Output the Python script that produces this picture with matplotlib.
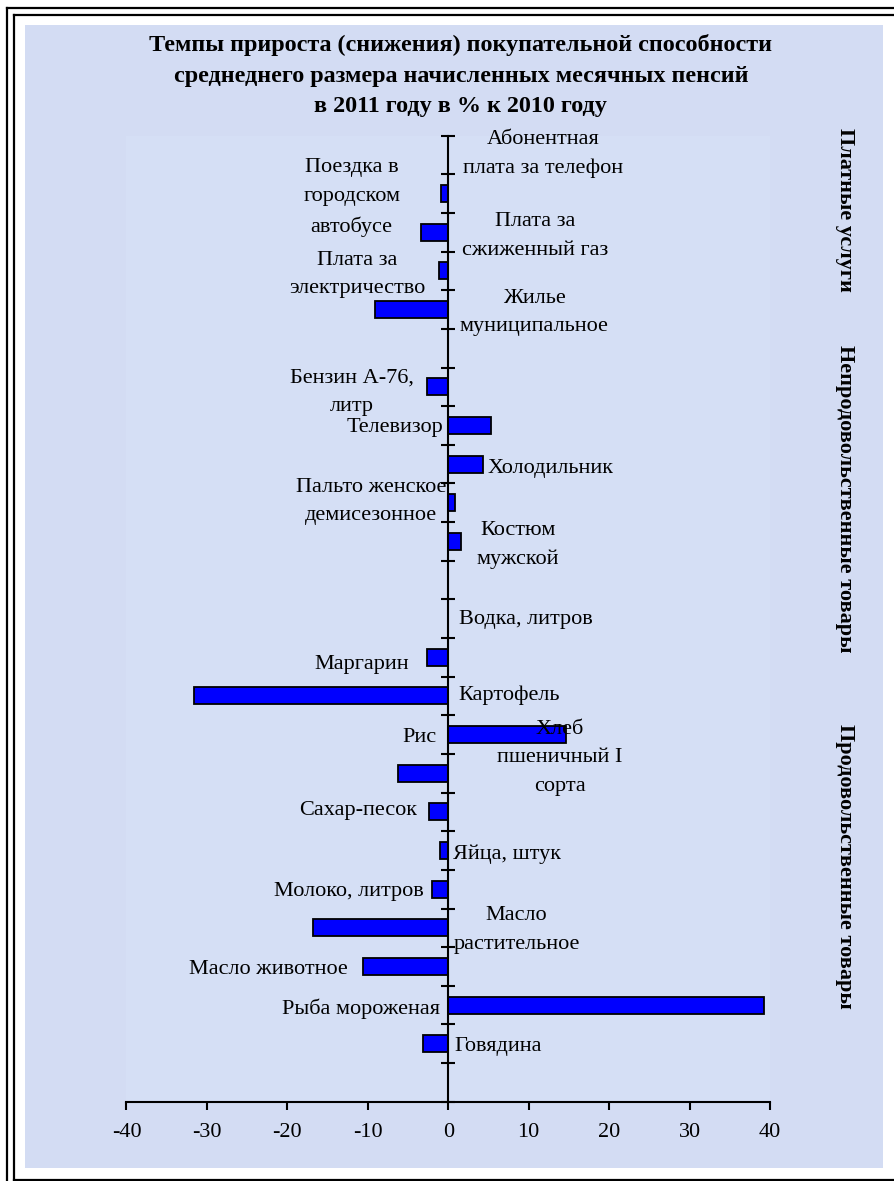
import numpy as np
import matplotlib.pyplot as plt
from matplotlib.patches import Rectangle
from matplotlib.lines import Line2D

plt.rcParams['font.family'] = ['Liberation Serif', 'DejaVu Serif']

# slots from top to bottom, '' = gap between groups
categories = ['Абонентная\nплата за телефон', 'Поездка в\nгородском\nавтобусе',
              'Плата за\nсжиженный газ', 'Плата за\nэлектричество',
              'Жилье\nмуниципальное', '',
              'Бензин А-76,\nлитр', 'Телевизор', 'Холодильник',
              'Пальто женское\nдемисезонное', 'Костюм\nмужской', '',
              'Водка, литров', 'Маргарин', 'Картофель', 'Рис',
              'Хлеб\nпшеничный I\nсорта', 'Сахар-песок', 'Яйца, штук',
              'Молоко, литров', 'Масло\nрастительное', 'Масло животное',
              'Рыба мороженая', 'Говядина', '']
values = [0.0, -0.9, -3.4, -1.1, -9.1, np.nan,
          -2.6, 5.3, 4.3, 0.8, 1.6, np.nan,
          0.0, -2.6, -31.6, 14.7, -6.3, -2.4, -1.0,
          -2.0, -16.8, -10.6, 39.3, -3.2, np.nan]
groups = ['Платные услуги', 'Непродовольственные товары', 'Продовольственные товары']
xticks = [-40, -30, -20, -10, 0, 10, 20, 30, 40]

title = ('Темпы прироста (снижения) покупательной способности\n'
         'среднеднего размера начисленных месячных пенсий\n'
         'в 2011 году в % к 2010 году')

# where each category text sits (x in data units, y offset from its slot)
label_x = [11.8, -12.0, 10.8, -11.3, 10.7, 0,
           -12.0, -6.6, 12.7, -9.6, 8.7, 0,
           9.6, -10.8, 7.6, -3.6, 13.9, -11.2, 7.3,
           -12.3, 8.5, -22.4, -10.8, 6.25, 0]
label_dy = [-0.08, 0.04, 0.04, 0.03, 0.01, 0,
            0.08, 0.0, 0.05, -0.1, 0.04, 0,
            -0.04, 0.12, -0.07, 0.01, -0.46, -0.1, 0.03,
            0.0, 0.0, 0.03, 0.04, 0.01, 0]
group_y = [0.822, 0.578, 0.266]

fig = plt.figure(figsize=(8.95, 11.81), dpi=100)
fig.patch.set_facecolor('white')

W, H = 895, 1181
def px(x0, y0, x1, y1):
    return (x0 / W, 1 - y1 / H, (x1 - x0) / W, (y1 - y0) / H)

# background panel
bx, by, bw, bh = px(25, 25, 883, 1168)
fig.patches.append(Rectangle((bx, by), bw, bh, transform=fig.transFigure,
                             facecolor='#d3dcf3', edgecolor='none', zorder=-5))

# frames (only the visible sides)
def fline(xs, ys):
    fig.lines.append(Line2D([x / W for x in xs], [1 - y / H for y in ys],
                            transform=fig.transFigure, color='black', lw=1.6, zorder=-4))
fline([7, 7], [8, 1181])
fline([7, 895], [8, 8])
fline([14.5, 14.5], [14.5, 1180])
fline([14.5, 895], [14.5, 14.5])
fline([14.5, 895], [1180, 1180])

ax = fig.add_axes(px(126.5, 135.7, 770, 1101.7))
ax.set_zorder(2)
ax.set_facecolor('#d5dff5')

ypos = np.arange(len(categories))
ax.barh(ypos, values, height=0.44, color='#0000ff', edgecolor='black', linewidth=1.3, zorder=3)

ax.set_xlim(-40, 40)
ax.set_ylim(len(categories) - 0.5, -0.5)

ax.spines['top'].set_visible(False)
ax.spines['right'].set_visible(False)
ax.spines['left'].set_position(('data', 0))
ax.spines['left'].set_linewidth(1.5)
ax.spines['bottom'].set_linewidth(1.5)
ax.spines['left'].set_zorder(4)

ax.set_yticks(np.arange(-0.5, len(categories) - 0.4, 1.0))
ax.set_yticklabels([])
ax.tick_params(axis='y', direction='inout', length=10, width=1.5)
ax.set_xticks(xticks)
ax.set_xticklabels([str(v) for v in xticks], fontsize=16)
ax.tick_params(axis='x', direction='out', length=6, width=1.5, pad=9)

for i, name in enumerate(categories):
    if name == '':
        continue
    ax.text(label_x[i], i + label_dy[i] + 0.06, name, ha='center', va='center',
            fontsize=16, linespacing=1.67, zorder=5)

fig.text(0.515, 0.936, title, ha='center', va='center', fontsize=17.4,
         fontweight='bold', linespacing=1.58)

for g, gy in zip(groups, group_y):
    fig.text(0.944, gy, g, rotation=270, ha='center', va='center',
             fontsize=16, fontweight='bold')

fig.savefig('out.png', dpi=100)
